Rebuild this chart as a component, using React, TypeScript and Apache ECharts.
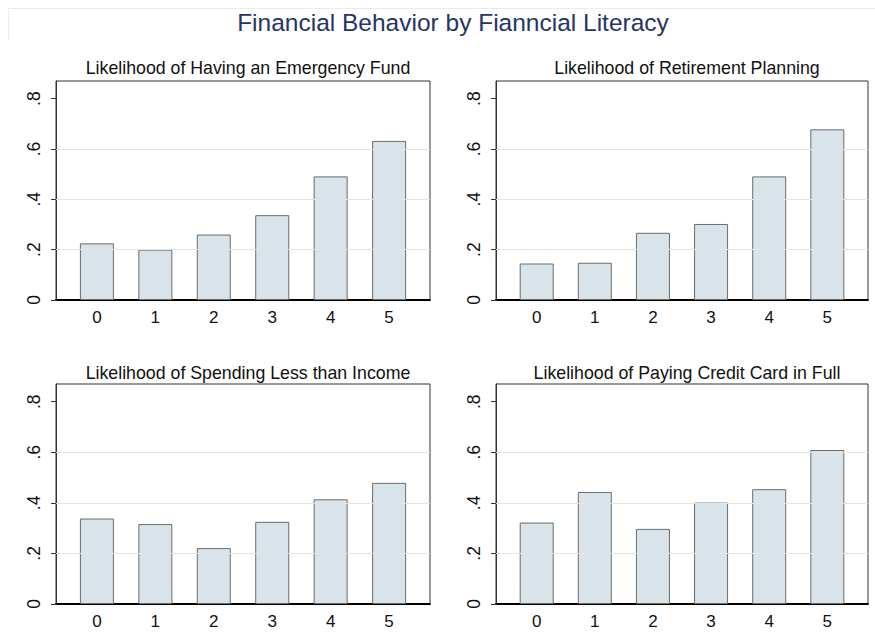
import React, { useEffect, useRef } from "react";
import * as echarts from "echarts";

const mainTitle = "Financial Behavior by Fianncial Literacy";
const panelTitles = [
  "Likelihood of Having an Emergency Fund",
  "Likelihood of Retirement Planning",
  "Likelihood of Spending Less than Income",
  "Likelihood of Paying Credit Card in Full",
];
const categories = [0, 1, 2, 3, 4, 5];
const emergencyFund = [0.225, 0.2, 0.26, 0.337, 0.491, 0.632];
const retirementPlanning = [0.145, 0.148, 0.267, 0.302, 0.491, 0.678];
const spendingLess = [0.338, 0.316, 0.221, 0.325, 0.414, 0.479];
const creditCardFull = [0.322, 0.443, 0.297, 0.401, 0.454, 0.609];
const yTicks = [0, 0.2, 0.4, 0.6, 0.8];
const gridLineValues = [0.2, 0.4, 0.6];

const seriesValues = [emergencyFund, retirementPlanning, spendingLess, creditCardFull];

const FONT = "Liberation Sans, Arial, sans-serif";

const grids = [
  { left: 56, top: 81, width: 374, height: 219 },
  { left: 496, top: 81, width: 372, height: 219 },
  { left: 56, top: 384, width: 374, height: 220 },
  { left: 496, top: 384, width: 372, height: 220 },
];

const fmtY = (v: number) => (v === 0 ? "0" : String(Math.round(v * 10) / 10).replace(/^0/, ""));

export default function App() {
  const ref = useRef<HTMLDivElement>(null);
  useEffect(() => {
    if (!ref.current) return;
    const chart = echarts.init(ref.current, undefined, { renderer: "svg" });

    const titles: any[] = [
      {
        text: mainTitle,
        left: 448,
        top: 5,
        textAlign: "center",
        textStyle: { fontFamily: FONT, fontSize: 24.5, fontWeight: "normal", color: "#263564" },
      },
    ];
    grids.forEach((g, i) => {
      titles.push({
        text: panelTitles[i],
        left: g.left + g.width / 2,
        top: i < 2 ? 54 : 358.5,
        textAlign: "center",
        textStyle: { fontFamily: FONT, fontSize: 17.75, fontWeight: "normal", color: "#111" },
      });
    });

    const xAxis = grids.map((_, i) => ({
      type: "value",
      gridIndex: i,
      min: -0.7,
      max: 5.7,
      axisLine: { show: true, onZero: false, lineStyle: { color: "#000", width: 1.8 } },
      axisTick: { show: false },
      splitLine: { show: false },
      axisLabel: {
        customValues: categories,
        formatter: (v: number) => String(v),
        fontFamily: FONT,
        fontSize: 17,
        color: "#111",
        margin: 9,
      },
    }));

    const yAxis = grids.map((_, i) => ({
      type: "value",
      gridIndex: i,
      min: 0,
      max: 0.87,
      axisLine: { show: true, onZero: false, lineStyle: { color: "#333", width: 1 } },
      axisTick: { show: true, customValues: yTicks, length: 5, lineStyle: { color: "#333" } },
      splitLine: { show: false },
      axisLabel: {
        customValues: yTicks,
        formatter: (v: number) => fmtY(v),
        rotate: 90,
        fontFamily: FONT,
        fontSize: 17.5,
        color: "#111",
        margin: 13,
      },
    }));

    const series: any[] = [];
    grids.forEach((_, i) => {
      series.push({
        type: "line",
        xAxisIndex: i,
        yAxisIndex: i,
        data: [],
        z: 1,
        silent: true,
        markLine: {
          silent: true,
          symbol: "none",
          label: { show: false },
          lineStyle: { color: "#e4e4e4", width: 1.2, type: "solid" },
          data: gridLineValues.map((v) => ({ yAxis: v })),
        },
      });
      series.push({
        type: "bar",
        xAxisIndex: i,
        yAxisIndex: i,
        z: 3,
        barWidth: 34,
        data: categories.map((c, j) => [c, seriesValues[i][j]]),
        itemStyle: { color: "#d8e4ea", borderColor: "#6b6b6b", borderWidth: 1 },
      });
    });

    chart.setOption({
      animation: false,
      backgroundColor: "#fff",
      title: titles,
      grid: grids.map((g) => ({
        ...g,
        show: true,
        borderColor: "#333",
        borderWidth: 1,
        backgroundColor: "#fff",
        containLabel: false,
      })),
      xAxis,
      yAxis,
      series,
      graphic: [
        {
          type: "polyline",
          shape: { points: [[8.5, 40], [8.5, 8.5], [875, 8.5]] },
          style: { stroke: "#e3eef0", lineWidth: 1, fill: "none" },
          silent: true,
        },
      ],
    });
    return () => chart.dispose();
  }, []);
  return (
    <div
      ref={ref}
      style={{ position: "absolute", left: 0, top: 0, width: 875, height: 640 }}
    />
  );
}
